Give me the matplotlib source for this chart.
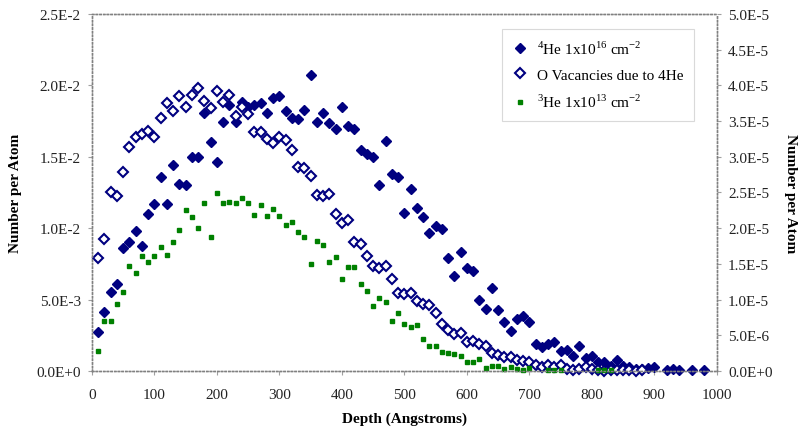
import matplotlib
matplotlib.use('Agg')
import matplotlib.pyplot as plt
from matplotlib.ticker import FuncFormatter, MultipleLocator

plt.rcParams['font.family'] = 'Liberation Serif'
plt.rcParams['mathtext.fontset'] = 'custom'
plt.rcParams['mathtext.rm'] = 'Liberation Serif'

# 4He implant profile (left axis, number per atom x1e-3)
he4_depth = list(range(10, 910, 10)) + [920, 930, 940, 960, 980]
he4_val = [2.7, 4.1, 5.55, 6.07, 8.6, 9.06, 9.8, 8.78, 11.0, 11.7,
           13.56, 11.7, 14.4, 13.07, 13.0, 14.96, 14.96, 18.1, 16.06, 14.66,
           17.46, 18.6, 17.46, 18.86, 18.46, 18.63, 18.77, 18.07, 19.1, 19.28,
           18.2, 17.7, 17.65, 18.3, 20.73, 17.46, 18.07, 17.34, 16.95, 18.46,
           17.18, 16.95, 15.5, 15.2, 14.96, 13.05, 16.08, 13.8, 13.56, 11.04,
           12.74, 11.39, 10.76, 9.66, 10.17, 9.94, 7.89, 6.67, 8.31, 7.19,
           7.03, 4.99, 4.34, 5.79, 4.29, 3.41, 2.82, 3.64, 3.83, 3.45,
           1.89, 1.66, 1.89, 2.05, 1.42, 1.49, 1.03, 1.73, 0.89, 1.07,
           0.61, 0.61, 0.35, 0.79, 0.37, 0.26, 0.12, 0.15, 0.2, 0.25,
           0.08, 0.12, 0.08, 0.05, 0.05]

# O vacancies due to 4He (left axis, x1e-3)
vac_depth = list(range(10, 890, 10))
vac_val = [7.89, 9.24, 12.56, 12.23, 13.91, 15.66, 16.36, 16.6, 16.8, 16.4,
           17.7, 18.77, 18.18, 19.28, 18.46, 19.35, 19.8, 18.93, 18.4, 19.59,
           18.86, 19.33, 17.84, 18.46, 18.0, 16.72, 16.72, 16.25, 15.97, 16.36,
           16.18, 15.5, 14.26, 14.19, 13.63, 12.32, 12.23, 12.4, 11.0, 10.36,
           10.6, 9.0, 8.9, 8.08, 7.38, 7.19, 7.38, 6.44, 5.46, 5.39,
           5.46, 4.92, 4.69, 4.62, 4.06, 3.29, 2.89, 2.59, 2.66, 2.05,
           2.12, 1.89, 1.73, 1.26, 1.12, 0.96, 0.96, 0.75, 0.72, 0.61,
           0.42, 0.26, 0.42, 0.26, 0.42, 0.1, 0.05, 0.1, 0.26, 0.1,
           0.05, 0.02, 0.05, 0.05, 0.03, 0.05, 0.02, 0.03]

# 3He implant profile (right axis, x1e-6)
he3_depth = list(range(10, 710, 10)) + [730, 740, 750, 810, 820, 830]
he3_val = [2.76, 6.96, 7.04, 9.38, 11.02, 14.76, 13.72, 16.06, 15.22, 16.06,
           17.32, 16.24, 18.02, 19.8, 22.6, 21.52, 20.0, 23.48, 18.72, 24.88,
           23.48, 23.6, 23.48, 24.2, 23.48, 21.84, 23.24, 21.66, 22.68, 21.66,
           20.44, 20.92, 19.42, 18.72, 14.98, 18.16, 17.7, 15.22, 16.0, 12.88,
           14.52, 14.52, 12.18, 11.24, 9.14, 10.18, 9.7, 6.96, 8.12, 6.58,
           6.12, 6.44, 4.48, 3.46, 3.46, 2.7, 2.52, 2.38, 2.14, 1.22,
           1.22, 1.68, 0.42, 0.66, 0.66, 0.3, 0.6, 0.2, 0.1, 0.4,
           0.1, 0.1, 0.1, 0.1, 0.1, 0.1]


def sci(v, pos):
    m, e = f"{v:.1E}".split('E')
    return f"{m}E{int(e):+d}"


fig = plt.figure(figsize=(8, 4.35), dpi=100)
ax = fig.add_axes([0.115, 0.145, 0.781, 0.8205])
ax2 = ax.twinx()

navy = '#000080'
green = '#008000'

h1, = ax.plot(he4_depth, [v * 1e-3 for v in he4_val], 'D', color=navy, ms=5.2,
              mec=navy, ls='none', clip_on=False, label=r'$^{4}$He 1x10$^{16}$ cm$^{-2}$')
h2, = ax.plot(vac_depth, [v * 1e-3 for v in vac_val], 'D', color=navy, ms=4.8,
              mfc='white', mec=navy, mew=1.5, ls='none', clip_on=False,
              label='O Vacancies due to 4He')
h3, = ax2.plot(he3_depth, [v * 1e-6 for v in he3_val], 's', color=green, ms=3.4,
               ls='none', clip_on=False, label=r'$^{3}$He 1x10$^{13}$ cm$^{-2}$')

ax.set_xlim(0, 1000)
ax.set_ylim(0, 0.025)
ax2.set_ylim(0, 5e-5)
ax.xaxis.set_major_locator(MultipleLocator(100))
ax.yaxis.set_major_locator(MultipleLocator(0.005))
ax2.yaxis.set_major_locator(MultipleLocator(5e-6))
ax.yaxis.set_major_formatter(FuncFormatter(sci))
ax2.yaxis.set_major_formatter(FuncFormatter(sci))

for a in (ax, ax2):
    for s in a.spines.values():
        s.set_linestyle(':')
        s.set_color('#808080')
        s.set_linewidth(1.0)
    a.tick_params(labelsize=11, length=3, color='#a0a0a0', labelcolor='#222222', pad=5)
ax.tick_params(axis='x', pad=9)

ax.set_xlabel('Depth (Angstroms)', fontsize=11, fontweight='bold', labelpad=8)
ax.set_ylabel('Number per Atom', fontsize=11, fontweight='bold', labelpad=10)
ax2.set_ylabel('Number per Atom', fontsize=11, fontweight='bold', rotation=270, labelpad=18)

leg = fig.legend(handles=[h1, h2, h3], loc='upper left', bbox_to_anchor=(0.627, 0.932),
                 fontsize=11, frameon=True, fancybox=False, borderpad=0.7,
                 labelspacing=0.75, handlelength=1.0, handletextpad=0.6, borderaxespad=0)
leg.get_frame().set_edgecolor('#d0d0d0')
leg.get_frame().set_linewidth(0.8)

fig.savefig('out.png', dpi=100)
